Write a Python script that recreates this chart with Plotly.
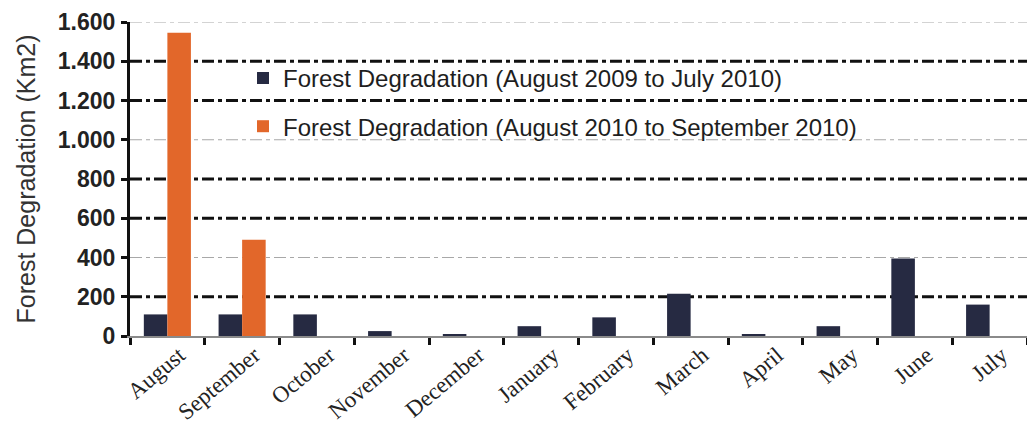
import plotly.graph_objects as go

# Monthly forest degradation (km2)
months = ["August", "September", "October", "November", "December", "January",
          "February", "March", "April", "May", "June", "July"]
deg_2009_2010 = [110, 110, 110, 25, 10, 50, 95, 215, 10, 50, 395, 160]
deg_2010 = [1545, 490, None, None, None, None, None, None, None, None, None, None]

y_ticks = [0, 200, 400, 600, 800, 1000, 1200, 1400, 1600]
y_tick_text = ["0", "200", "400", "600", "800", "1.000", "1.200", "1.400", "1.600"]

NAVY = "#262a42"
ORANGE = "#e2672a"

fig = go.Figure()
fig.add_trace(go.Bar(
    x=months, y=deg_2009_2010, name="Forest Degradation (August 2009 to July 2010)",
    marker=dict(color=NAVY, line=dict(width=0)), legendgroup="a",
))
fig.add_trace(go.Bar(
    x=months, y=deg_2010, name="Forest Degradation (August 2010 to September 2010)",
    marker=dict(color=ORANGE, line=dict(width=0)), legendgroup="b",
))

# dash-dot gridlines; some rows print heavier than others
heavy = {200, 600, 800, 1200, 1400}
for v in y_ticks[1:]:
    if v in heavy:
        line = dict(color="#111111", width=3, dash="12px,4px,4px,4px")
    else:
        line = dict(color="#a8a8a8", width=1.2, dash="12px,4px,4px,4px")
    fig.add_shape(type="line", xref="paper", yref="y", x0=0, x1=1, y0=v, y1=v,
                  line=line, layer="below")

fig.update_layout(
    width=1027, height=425,
    margin=dict(l=130, r=0, t=22, b=89),
    paper_bgcolor="white", plot_bgcolor="white",
    barmode="group", bargap=0.37, bargroupgap=0,
    showlegend=True,
    legend=dict(
        x=0.126, y=0.892, xanchor="left", yanchor="top",
        bgcolor="rgba(0,0,0,0)", tracegroupgap=14, itemwidth=30,
        font=dict(family="Arial, Liberation Sans, sans-serif", size=24, color="#1e1e1e"),
    ),
    xaxis=dict(
        type="category", tickson="boundaries", automargin=False,
        showline=True, linecolor="#8a8a8a", linewidth=1.5,
        ticks="outside", ticklen=7, tickwidth=3, tickcolor="#111111",
        tickangle=-40, ticklabelshift=12, ticklabelstandoff=-5,
        tickfont=dict(family="Liberation Serif, Times New Roman, serif", size=23, color="#222222"),
        showgrid=False, zeroline=False,
    ),
    yaxis=dict(
        range=[0, 1600], tickvals=y_ticks, ticktext=y_tick_text, automargin=False,
        showline=True, linecolor="#111111", linewidth=3,
        ticks="outside", ticklen=6, tickwidth=3, tickcolor="#111111",
        ticklabelstandoff=1,
        tickfont=dict(family="Arial, Liberation Sans, sans-serif", size=23, color="#222222", weight="bold"),
        showgrid=False, zeroline=False,
        title=dict(text="Forest Degradation (Km2)", standoff=16,
                   font=dict(family="Arial, Liberation Sans, sans-serif", size=25, color="#333333")),
    ),
)

fig.write_html("out.html")
